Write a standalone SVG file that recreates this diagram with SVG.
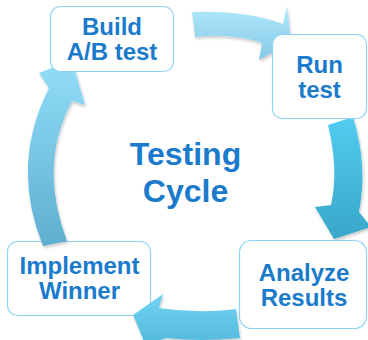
<svg xmlns="http://www.w3.org/2000/svg" width="368" height="340" viewBox="0 0 368 340">
  <defs>
    <linearGradient id="gTop" x1="0" y1="0" x2="0" y2="1">
      <stop offset="0" stop-color="#aee8fb"/>
      <stop offset="1" stop-color="#86c9e6"/>
    </linearGradient>
    <linearGradient id="gRight" x1="0" y1="0" x2="0" y2="1">
      <stop offset="0" stop-color="#52cdf0"/>
      <stop offset="1" stop-color="#38a6ca"/>
    </linearGradient>
    <linearGradient id="gBottom" x1="0" y1="0" x2="0" y2="1">
      <stop offset="0" stop-color="#6dd3f2"/>
      <stop offset="1" stop-color="#4bb7dc"/>
    </linearGradient>
    <linearGradient id="gLeft" x1="0" y1="0" x2="0" y2="1">
      <stop offset="0" stop-color="#92def9"/>
      <stop offset="1" stop-color="#5eaed0"/>
    </linearGradient>
    <filter id="shade" x="-20%" y="-20%" width="140%" height="140%">
      <feDropShadow dx="1" dy="2" stdDeviation="1.5" flood-color="#000" flood-opacity="0.22"/>
    </filter>
  </defs>
  <style>
    .box { fill: #ffffff; stroke: #8fd4f6; stroke-width: 1.2; }
    .lbl { font-family: "Liberation Sans", Arial, sans-serif; font-weight: bold; font-size: 24px; fill: #1a7acb; text-anchor: middle; }
    .title { font-size: 32px; }
    .arrow { filter: url(#shade); }
  </style>

  <rect width="368" height="340" fill="#ffffff"/>

  <!-- node drawn beneath the bottom arrow head -->
  <g id="node-implement">
    <rect class="box" x="7.5" y="241.5" width="143" height="74" rx="10"/>
    <text class="lbl" x="79.5" y="274">Implement</text>
    <text class="lbl" x="79.5" y="299">Winner</text>
  </g>

  <g id="connectors">
    <!-- Build -> Run -->
    <path class="arrow" fill="url(#gTop)" d="M192,12 Q245,10 283,24 L287,6 L291,42 L259,60 L262,43 Q232,33 195,37 Z"/>
    <!-- Run -> Analyze -->
    <path class="arrow" fill="url(#gRight)" d="M353,117 Q368,165 359,212 L371,227 L334,239 L315,207 L331,205 Q339,170 328,125 Z"/>
    <!-- Analyze -> Implement -->
    <path class="arrow" fill="url(#gBottom)" fill-opacity="0.95" d="M236,309 L240,338 Q200,342 166,338 L146,346 L133,315 L163,294 L159,308 Q198,314 236,309 Z"/>
    <!-- Implement -> Build -->
    <path class="arrow" fill="url(#gLeft)" d="M43,246 L67,241 Q38,165 72,101 L85,105 L72,60 L39,73 L49,88 Q10,165 43,246 Z"/>
  </g>

  <g id="node-build">
    <rect class="box" x="50.5" y="6.5" width="123" height="65" rx="10"/>
    <text class="lbl" x="112" y="35">Build</text>
    <text class="lbl" x="112" y="60">A/B test</text>
  </g>

  <g id="node-run">
    <rect class="box" x="272.5" y="34.5" width="94" height="84" rx="10"/>
    <text class="lbl" x="319.5" y="73">Run</text>
    <text class="lbl" x="319.5" y="98">test</text>
  </g>

  <g id="node-analyze">
    <rect class="box" x="239.5" y="240.5" width="127" height="88" rx="12"/>
    <text class="lbl" x="304" y="281">Analyze</text>
    <text class="lbl" x="304" y="306">Results</text>
  </g>

  <g id="node-center">
    <text class="lbl title" x="185.5" y="165">Testing</text>
    <text class="lbl title" x="185.5" y="202">Cycle</text>
  </g>
</svg>
